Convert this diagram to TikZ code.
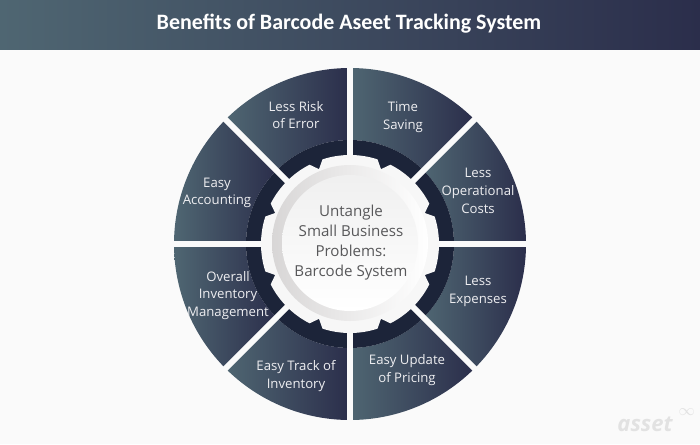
\documentclass[tikz,border=0pt]{standalone}
\usepackage{fontspec}
\setmainfont{Open Sans}
\newfontfamily\titlefont{Carlito}
\usetikzlibrary{positioning}
\definecolor{slatelight}{HTML}{4F6672}
\definecolor{slatedark}{HTML}{2B2E4B}
\definecolor{ringdark}{HTML}{1C2439}
\definecolor{pagewhite}{HTML}{FAFAFA}
\definecolor{rimgrey}{HTML}{D8D6D6}
\definecolor{centertext}{HTML}{58585A}
\definecolor{logogrey}{HTML}{E2E2E2}

\begin{document}
\begin{tikzpicture}[
    sector/.style={left color=slatelight, right color=slatedark},
    benefit/.style={align=center, text=white!92!slatedark, font=\fontsize{7.5}{10.1}\selectfont, inner sep=0pt},
    gap/.style={line width=0.115cm, draw=pagewhite}
]
    \useasboundingbox (0,0) rectangle (14,8.88);
    \fill[pagewhite] (0,0) rectangle (14,8.88);

    % Header
    \shade[sector] (0,7.9) rectangle (14,8.88);
    \node[font=\titlefont\bfseries\fontsize{12.5}{14}\selectfont, text=white] (title) at (6.98,8.41) {Benefits of Barcode Aseet Tracking System};

    % Wheel
    \begin{scope}[shift={(7,4)}]
        \foreach \a in {0,45,...,315} {
            \shade[sector] (\a:2.08) -- (\a:3.52) arc[start angle=\a, end angle=\a+45, radius=3.52] -- (\a+45:2.08) arc[start angle=\a+45, end angle=\a, radius=2.08] -- cycle;
        }
        \fill[ringdark] (0,0) circle (2.08);

        % Gaps between the sectors
        \foreach \a in {0,45,...,315} {
            \draw[gap] (0,0) -- (\a:3.6);
        }

        % Gear
        \fill[white!97!black] (-18:1.78) \foreach \a in {0,45,...,315} {
            arc[start angle=\a-18, end angle=\a+18, radius=1.78] -- (\a+22.5:1.62) -- (\a+27:1.78)
        } -- cycle;
        \shade[shading angle=135, left color=rimgrey, right color=white] (0,0.02) circle (1.56);
        \shade[top color=white!94!black, bottom color=white] (0,0.02) circle (1.36);
    \end{scope}

    % Labels
    \node[benefit] (risk) at (5.92,6.58) {Less Risk\\of Error};
    \node[benefit] (saving) at (8.06,6.54) {Time\\Saving};
    \node[benefit] (costs) at (9.56,5.06) {Less\\Operational\\Costs};
    \node[benefit] (expenses) at (9.56,3.06) {Less\\Expenses};
    \node[benefit] (pricing) at (8.14,1.48) {Easy Update\\of Pricing};
    \node[benefit] (inventory) at (5.92,1.36) {Easy Track of\\Inventory};
    \node[benefit] (overall) at (4.56,2.97) {Overall\\Inventory\\Management};
    \node[benefit] (accounting) at (4.34,5.02) {Easy\\Accounting};
    \node[align=center, text=centertext, font=\fontsize{8.6}{11.4}\selectfont, inner sep=0pt] (center) at (7.02,4.03) {Untangle\\Small Business\\Problems:\\Barcode System};

    % Logo
    \node[text=logogrey, font=\bfseries\itshape\fontsize{12.5}{14}\selectfont, inner sep=0pt] (logo) at (12.9,0.4) {asset};
    \node[text=logogrey, font=\fontsize{9}{9}\selectfont, inner sep=0pt, right=3pt of logo, yshift=7pt] (logomark) {$\infty$};
\end{tikzpicture}
\end{document}
